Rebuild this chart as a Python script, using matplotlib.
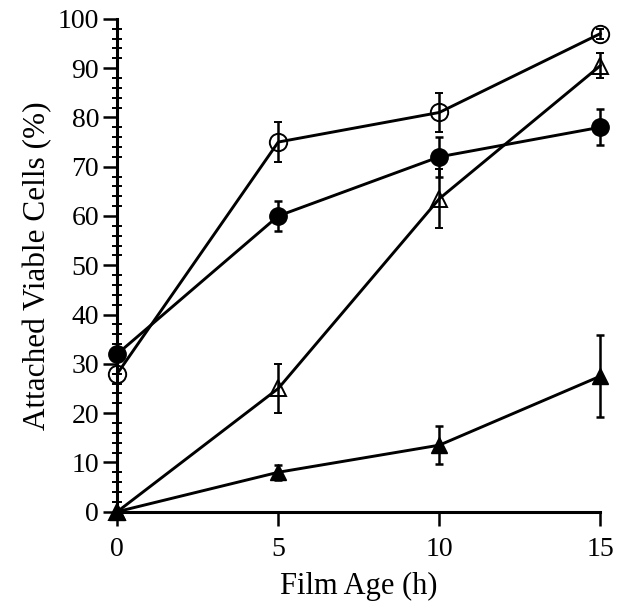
import numpy as np
import matplotlib
matplotlib.use('Agg')
import matplotlib.pyplot as plt
from matplotlib.ticker import MultipleLocator

plt.rcParams['font.family'] = ['Liberation Serif', 'DejaVu Serif']

# Data
filmAge = [0, 5, 10, 15]

openCircle = [28, 75, 81, 97]
openCircleErr = [0, 4, 4, 1]

filledCircle = [32, 60, 72, 78]
filledCircleErr = [0, 3, 4, 3.7]

openTriangle = [0, 25, 63.5, 90.5]
openTriangleErr = [0, 5, 6, 2.5]

filledTriangle = [0, 8, 13.5, 27.5]
filledTriangleErr = [0, 1.5, 3.8, 8.3]

fig = plt.figure(figsize=(6.17, 6.07), dpi=100)
ax = fig.add_axes([0.19, 0.157, 0.783, 0.812])

common = dict(color='black', linewidth=2.1, capsize=3, elinewidth=1.8,
              capthick=1.8, clip_on=False, zorder=3)

ax.errorbar(filmAge, openCircle, yerr=openCircleErr, marker='o', markersize=12.5,
            markerfacecolor='none', markeredgewidth=1.4, **common)
ax.errorbar(filmAge, filledCircle, yerr=filledCircleErr, marker='o', markersize=12.5,
            markerfacecolor='black', **common)
ax.errorbar(filmAge, openTriangle, yerr=openTriangleErr, marker='^', markersize=12,
            markerfacecolor='none', markeredgewidth=1.4, **common)
ax.errorbar(filmAge, filledTriangle, yerr=filledTriangleErr, marker='^', markersize=12,
            markerfacecolor='black', **common)

# Axes
ax.set_xlim(0, 15)
ax.set_ylim(0, 100)
ax.xaxis.set_major_locator(MultipleLocator(5))
ax.yaxis.set_major_locator(MultipleLocator(10))
ax.yaxis.set_minor_locator(MultipleLocator(2))
ax.spines['top'].set_visible(False)
ax.spines['right'].set_visible(False)
ax.spines['left'].set_linewidth(2.2)
ax.spines['bottom'].set_linewidth(2.2)
ax.tick_params(axis='both', which='major', direction='out', length=10,
               width=1.8, labelsize=20, pad=3)
ax.tick_params(axis='x', which='major', pad=8)
ax.tick_params(axis='y', which='minor', direction='inout', length=7, width=1.4)

ax.set_xlabel('Film Age (h)', fontsize=22, labelpad=7)
ax.set_ylabel('Attached Viable Cells (%)', fontsize=22.5, labelpad=4)

fig.savefig('out.png', dpi=100)
plt.close(fig)
